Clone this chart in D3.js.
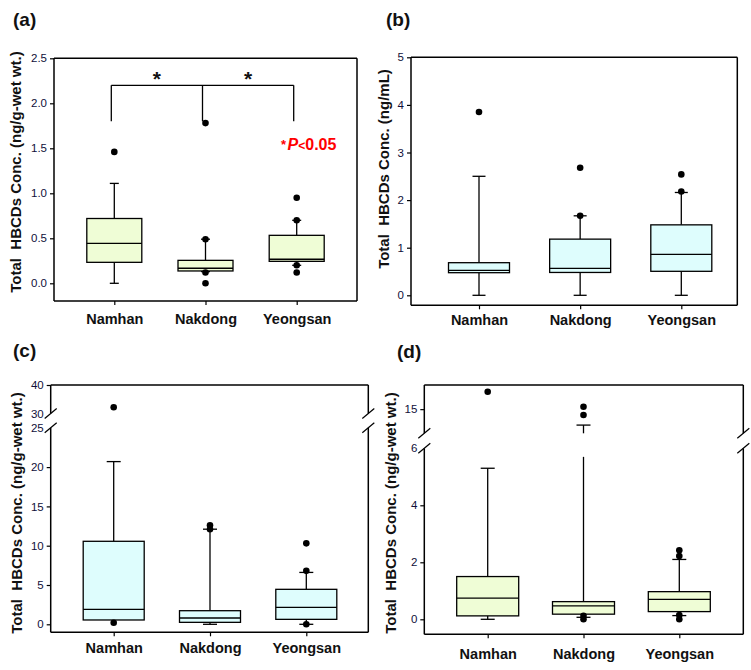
<!DOCTYPE html>
<html>
<head>
<meta charset="utf-8">
<script src="https://cdn.jsdelivr.net/npm/d3@7"></script>
<style>
  body { margin: 0; background: #fff; }
  svg { display: block; font-family: "Liberation Sans", Arial, sans-serif; }
</style>
</head>
<body>
<svg id="chart" width="751" height="670"></svg>
<script>
// ---------------- DATA ----------------
const categories = ["Namhan", "Nakdong", "Yeongsan"];

// (a) ng/g-wet wt.
const aMin     = [0.00, 0.13, 0.20];
const aQ1      = [0.233, 0.137, 0.244];
const aMedian  = [0.444, 0.167, 0.267];
const aQ3      = [0.72, 0.255, 0.533];
const aMax     = [1.11, 0.49, 0.70];
const aOutliers = [[1.46], [1.78, 0.49, 0.12, 0.0], [0.95, 0.70, 0.20, 0.12]];
const aTicks   = [0.0, 0.5, 1.0, 1.5, 2.0, 2.5];
const aBracket = { top: 2.2, bottom: 1.8, stars: ["*", "*"] };
const aNote    = "P<0.05";

// (b) ng/mL
const bMin     = [0, 0, 0];
const bQ1      = [0.475, 0.48, 0.504];
const bMedian  = [0.525, 0.567, 0.86];
const bQ3      = [0.685, 1.18, 1.48];
const bMax     = [2.5, 1.67, 2.16];
const bOutliers = [[3.85], [2.68, 1.67], [2.54, 2.18]];
const bTicks   = [0, 1, 2, 3, 4, 5];

// (c) ng/g-wet wt., broken axis 25–30
const cMin     = [0.55, 0.0, 0.0];
const cQ1      = [0.55, 0.25, 0.63];
const cMedian  = [1.9, 0.8, 2.16];
const cQ3      = [10.56, 1.73, 4.45];
const cMax     = [20.7, 12.1, 6.6];
const cOutliers = [[32.2, 0.2], [12.6, 12.1], [10.3, 6.8, 0.0]];
const cLowerTicks = [0, 5, 10, 15, 20, 25];
const cUpperTicks = [30, 40];
const cLowerDomain = [0, 25];
const cUpperDomain = [30, 40];

// (d) ng/g-wet wt., broken axis 6–10
const dMin     = [0.0, 0.07, 0.13];
const dQ1      = [0.12, 0.18, 0.27];
const dMedian  = [0.74, 0.47, 0.70];
const dQ3      = [1.5, 0.62, 0.97];
const dMax     = [5.3, 11.7, 2.1];
const dOutliers = [[18.6], [15.5, 13.8, 0.12, 0.0], [2.42, 2.22, 0.15, 0.0]];
const dLowerTicks = [0, 2, 4, 6];
const dUpperTicks = [15];
const dLowerDomain = [0, 6];
const dUpperDomain = [10, 20];
const dWhiskerGap = [5.7, 10];

// ---------------- DRAW ----------------
const svg = d3.select("#chart");
const FILL_GREEN = "#EFFDD6";
const FILL_CYAN  = "#DEFDFD";
const TICK_COLOR = "#10103a";

function makeBoxData(mn, q1, md, q3, mx, out) {
  return categories.map((c, i) => ({ cat: c, min: mn[i], q1: q1[i], med: md[i], q3: q3[i], max: mx[i], out: out[i] }));
}

function drawPanel(cfg) {
  const g = svg.append("g");
  const { x0, x1, y0, y1 } = cfg.box;
  const x = d3.scalePoint().domain(categories).range(cfg.xRange);
  const y = cfg.y;

  // y axis ticks
  cfg.axes.forEach(ax => {
    const axis = d3.axisLeft(ax.scale).tickValues(ax.ticks).tickSize(ax.noTick ? 0 : 4)
      .tickPadding(ax.noTick ? 7 : 3).tickFormat(cfg.fmt);
    const ag = g.append("g").attr("transform", `translate(${x0},0)`).call(axis);
    ag.select(".domain").remove();
    ag.selectAll("line").attr("stroke", "#000").attr("stroke-width", 1.2);
    ag.selectAll("text").attr("font-size", 11.5).attr("fill", TICK_COLOR)
      .attr("font-family", "'Liberation Sans', Arial, sans-serif");
  });

  // x axis
  const xa = d3.axisBottom(x).tickSize(4).tickPadding(cfg.xPad);
  const xg = g.append("g").attr("transform", `translate(0,${y1})`).call(xa);
  xg.select(".domain").remove();
  xg.selectAll("line").attr("stroke", "#000").attr("stroke-width", 1.2);
  xg.selectAll("text").attr("font-size", 14.5).attr("font-weight", "bold").attr("fill", "#111")
    .attr("font-family", "'Liberation Sans', Arial, sans-serif");

  // frame
  const fr = g.append("g").attr("stroke", "#000").attr("stroke-width", 1.5).attr("fill", "none");
  fr.append("line").attr("x1", x0).attr("x2", x1).attr("y1", y0).attr("y2", y0);
  fr.append("line").attr("x1", x0).attr("x2", x1).attr("y1", y1).attr("y2", y1);
  if (cfg.breakY) {
    const [bTop, bBot] = cfg.breakY;
    [x0, x1].forEach(xx => {
      fr.append("line").attr("x1", xx).attr("x2", xx).attr("y1", y0).attr("y2", bTop);
      fr.append("line").attr("x1", xx).attr("x2", xx).attr("y1", bBot).attr("y2", y1);
      [bTop, bBot].forEach(by => {
        fr.append("line").attr("stroke-width", 1.2)
          .attr("x1", xx - 6).attr("y1", by + 5).attr("x2", xx + 6).attr("y2", by - 5);
      });
    });
  } else {
    fr.append("line").attr("x1", x0).attr("x2", x0).attr("y1", y0).attr("y2", y1);
    fr.append("line").attr("x1", x1).attr("x2", x1).attr("y1", y0).attr("y2", y1);
  }

  // boxes
  const data = cfg.data;
  const bw = cfg.boxWidth, cap = cfg.cap;
  const bg = g.append("g").attr("stroke", "#000").attr("stroke-width", 1.3);
  data.forEach(d => {
    const cx = x(d.cat);
    if (cfg.gap && d.max >= cfg.gap[1]) {
      bg.append("line").attr("x1", cx).attr("x2", cx).attr("y1", y(d.q3)).attr("y2", y(cfg.gap[0]));
      bg.append("line").attr("x1", cx).attr("x2", cx).attr("y1", y(cfg.gap[1])).attr("y2", y(d.max));
    } else {
      bg.append("line").attr("x1", cx).attr("x2", cx).attr("y1", y(d.q3)).attr("y2", y(d.max));
    }
    bg.append("line").attr("x1", cx - cap).attr("x2", cx + cap).attr("y1", y(d.max)).attr("y2", y(d.max));
    if (d.min < d.q1) {
      bg.append("line").attr("x1", cx).attr("x2", cx).attr("y1", y(d.q1)).attr("y2", y(d.min));
      bg.append("line").attr("x1", cx - cap).attr("x2", cx + cap).attr("y1", y(d.min)).attr("y2", y(d.min));
    }
    bg.append("rect").attr("x", cx - bw / 2).attr("width", bw)
      .attr("y", y(d.q3)).attr("height", y(d.q1) - y(d.q3))
      .attr("fill", cfg.fill);
    bg.append("line").attr("x1", cx - bw / 2).attr("x2", cx + bw / 2).attr("y1", y(d.med)).attr("y2", y(d.med));
    d.out.forEach(v => {
      g.append("circle").attr("cx", cx).attr("cy", y(v)).attr("r", 3.3).attr("fill", "#000");
    });
  });

  // y title
  g.append("text")
    .attr("transform", `translate(${cfg.titleX},${cfg.titleY}) rotate(-90)`)
    .attr("text-anchor", "middle").attr("font-size", 15).attr("font-weight", "bold").attr("fill", "#111")
    .attr("xml:space", "preserve")
    .text(cfg.title);

  // panel label
  g.append("text").attr("x", cfg.label[1]).attr("y", cfg.label[2])
    .attr("font-size", 19).attr("font-weight", "bold").attr("fill", "#111").text(cfg.label[0]);

  return { g, x, y };
}

// Panel (a)
const aY = d3.scaleLinear().domain([0, 2.5]).range([283.3, 58.3]);
const pa = drawPanel({
  box: { x0: 54, x1: 357, y0: 58.3, y1: 301 },
  xRange: [114.3, 296.7], xPad: 9,
  y: aY,
  axes: [{ scale: aY, ticks: aTicks }],
  fmt: d3.format(".1f"),
  data: makeBoxData(aMin, aQ1, aMedian, aQ3, aMax, aOutliers),
  boxWidth: 55, cap: 4.5, fill: FILL_GREEN,
  title: "Total  HBCDs Conc. (ng/g-wet wt.)", titleX: 21, titleY: 172,
  label: ["(a)", 13, 26]
});
{
  const br = pa.g.append("g").attr("stroke", "#000").attr("stroke-width", 1.3).attr("fill", "none");
  const xs = categories.map(c => pa.x(c) - 3);
  br.append("line").attr("x1", xs[0]).attr("x2", xs[2]).attr("y1", aY(aBracket.top)).attr("y2", aY(aBracket.top));
  xs.forEach(xx => br.append("line").attr("x1", xx).attr("x2", xx).attr("y1", aY(aBracket.top)).attr("y2", aY(aBracket.bottom)));
  aBracket.stars.forEach((s, i) => {
    pa.g.append("text").attr("x", (xs[i] + xs[i + 1]) / 2).attr("y", 86)
      .attr("text-anchor", "middle").attr("font-size", 21).attr("font-weight", "bold").attr("fill", "#111").text(s);
  });
  const note = pa.g.append("text").attr("x", 281).attr("y", 150).attr("fill", "#FF0000").attr("font-weight", "bold");
  note.append("tspan").attr("font-size", 13).attr("dy", -1).text("*");
  note.append("tspan").attr("font-size", 16).attr("font-style", "italic").attr("dx", 1.5).attr("dy", 1).text(aNote.slice(0, 1));
  note.append("tspan").attr("font-size", 12).text(aNote.slice(1, 2));
  note.append("tspan").attr("font-size", 16).text(aNote.slice(2));
}

// Panel (b)
const bY = d3.scaleLinear().domain([0, 5]).range([295.3, 57.3]);
drawPanel({
  box: { x0: 411, x1: 737.3, y0: 57.3, y1: 305.3 },
  xRange: [479, 681.3], xPad: 5,
  y: bY,
  axes: [{ scale: bY, ticks: bTicks }],
  fmt: d3.format("d"),
  data: makeBoxData(bMin, bQ1, bMedian, bQ3, bMax, bOutliers),
  boxWidth: 61, cap: 6.5, fill: FILL_CYAN,
  title: "Total  HBCDs Conc. (ng/mL)", titleX: 389, titleY: 169,
  label: ["(b)", 386, 26]
});

// Panel (c)
const cLower = d3.scaleLinear().domain(cLowerDomain).range([624.3, 427.8]);
const cUpper = d3.scaleLinear().domain(cUpperDomain).range([413.5, 385]);
const cY = v => (v >= cUpperDomain[0] ? cUpper(v) : cLower(v));
drawPanel({
  box: { x0: 50.7, x1: 368.3, y0: 385, y1: 632.3 },
  xRange: [113.7, 306.3], xPad: 6,
  y: cY,
  axes: [
    { scale: cLower, ticks: cLowerTicks.slice(0, -1) },
    { scale: cLower, ticks: cLowerTicks.slice(-1), noTick: true },
    { scale: cUpper, ticks: cUpperTicks.slice(1) },
    { scale: cUpper, ticks: cUpperTicks.slice(0, 1), noTick: true }
  ],
  fmt: d3.format("d"),
  breakY: [cUpper(cUpperDomain[0]), cLower(cLowerDomain[1])],
  data: makeBoxData(cMin, cQ1, cMedian, cQ3, cMax, cOutliers),
  boxWidth: 61, cap: 7, fill: FILL_CYAN,
  title: "Total  HBCDs Conc. (ng/g-wet wt.)", titleX: 22, titleY: 513,
  label: ["(c)", 13, 357]
});

// Panel (d)
const dLower = d3.scaleLinear().domain(dLowerDomain).range([619.3, 448.3]);
const dUpper = d3.scaleLinear().domain(dUpperDomain).range([433.3, 385]);
const dY = v => (v >= dUpperDomain[0] ? dUpper(v) : dLower(v));
drawPanel({
  box: { x0: 424.3, x1: 743.3, y0: 385, y1: 634.3 },
  xRange: [487.7, 679.3], xPad: 10,
  y: dY,
  axes: [
    { scale: dLower, ticks: dLowerTicks.slice(0, -1) },
    { scale: dLower, ticks: dLowerTicks.slice(-1), noTick: true },
    { scale: dUpper, ticks: dUpperTicks }
  ],
  fmt: d3.format("d"),
  breakY: [dUpper(dUpperDomain[0]), dLower(dLowerDomain[1])],
  gap: dWhiskerGap,
  data: makeBoxData(dMin, dQ1, dMedian, dQ3, dMax, dOutliers),
  boxWidth: 62, cap: 7, fill: FILL_GREEN,
  title: "Total  HBCDs Conc. (ng/g-wet wt.)", titleX: 396, titleY: 513,
  label: ["(d)", 397, 358]
});
</script>
</body>
</html>
